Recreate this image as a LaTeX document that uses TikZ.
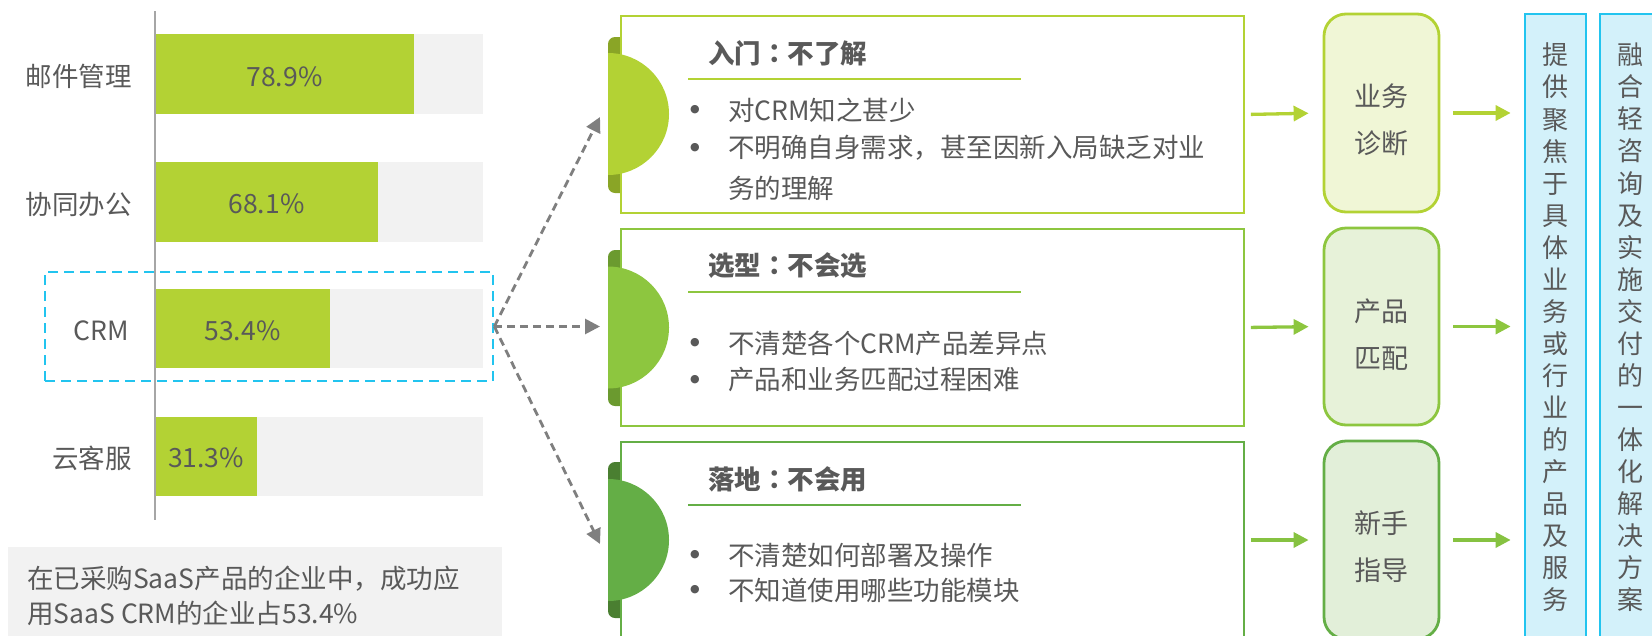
\documentclass[tikz,border=0pt]{standalone}
\usepackage{fontspec}
\setmainfont{Noto Sans CJK SC}
\newfontfamily\tcfont{Noto Sans CJK TC}
\newfontfamily\bulfont{DejaVu Sans}
\usetikzlibrary{arrows.meta}
\definecolor{txt}{HTML}{595959}
\definecolor{barg}{HTML}{B3D234}
\definecolor{barbg}{HTML}{F2F2F2}
\definecolor{axisc}{HTML}{A6A6A6}
\definecolor{cyanc}{HTML}{22C4EF}
\definecolor{cyanf}{HTML}{D3F1FA}
\definecolor{grayarr}{HTML}{7F7F7F}
\definecolor{gA}{HTML}{B3D234}
\definecolor{gAd}{HTML}{8AA526}
\definecolor{gAf}{HTML}{F0F6D6}
\definecolor{gB}{HTML}{8DC63F}
\definecolor{gBd}{HTML}{6B9A2F}
\definecolor{gBf}{HTML}{E7F2D9}
\definecolor{gC}{HTML}{64AE46}
\definecolor{gCd}{HTML}{4A7F31}
\definecolor{gCf}{HTML}{E2EFD9}
\definecolor{gCa}{HTML}{86C241}
\newcommand\tcolon{{\tcfont ：}}
\begin{document}
\begin{tikzpicture}[x=1pt,y=-1pt,
  txtstyle/.style={inner sep=0pt, text=txt},
  lbl/.style={txtstyle, font=\fontsize{26.5}{30}\selectfont},
  ttl/.style={txtstyle, anchor=west, font=\fontsize{26.5}{30}\selectfont\bfseries},
  bodyt/.style={txtstyle, anchor=west, font=\fontsize{26.5}{30}\selectfont},
  bul/.style={txtstyle, font=\bulfont\fontsize{11}{13}\selectfont},
  midbox/.style={draw, fill=white, line width=2.6pt, minimum width=623pt, minimum height=197pt, inner sep=0pt},
  rbox/.style={draw, line width=2.8pt, rounded corners=22pt, minimum width=115pt, minimum height=198pt, inner sep=0pt},
  rtxt/.style={txtstyle, align=center, font=\fontsize{27}{47}\selectfont},
  vbox/.style={draw=cyanc, fill=cyanf, line width=2.7pt, minimum width=61pt, minimum height=640pt, inner sep=0pt},
  vtxt/.style={txtstyle, align=center, font=\fontsize{26}{32.06}\selectfont},
  dasharr/.style={draw=grayarr, line width=2.8pt, dash pattern=on 8pt off 5pt, -{Triangle[length=15pt,width=15pt]}},
  garr/.style={line width=3.3pt, -{Triangle[length=15pt,width=15pt]}}
]
\useasboundingbox (0,0) rectangle (1652,635);
\clip (0,0) rectangle (1652,635);

% ---- bar chart ----
\fill[barbg] (155,34) rectangle (483,114);
\fill[barg] (155,34) rectangle (414,114);
\fill[barbg] (155,162) rectangle (483,242);
\fill[barg] (155,162) rectangle (378,242);
\fill[barbg] (155,289) rectangle (483,368);
\fill[barg] (155,289) rectangle (330,368);
\fill[barbg] (155,417) rectangle (483,496);
\fill[barg] (155,417) rectangle (257,496);
\draw[axisc, line width=1.8pt] (155,11) -- (155,520);

\node[lbl, anchor=east] (l1) at (132,76) {邮件管理};
\node[lbl, anchor=east] (l2) at (132,204) {协同办公};
\node[lbl, anchor=east] (l3) at (129,331) {CRM};
\node[lbl, anchor=east] (l4) at (132,458) {云客服};
\node[lbl] (p1) at (284.5,77) {78.9\%};
\node[lbl] (p2) at (266.5,204) {68.1\%};
\node[lbl] (p3) at (242.5,331) {53.4\%};
\node[lbl] (p4) at (206,458) {31.3\%};

\node[draw=cyanc, line width=2.7pt, dash pattern=on 10pt off 6pt, minimum width=448pt, minimum height=109pt, inner sep=0pt] (crm) at (269,326.5) {};

% ---- note ----
\fill[barbg] (8,547) rectangle (502,650);
\node[lbl, anchor=west, align=left, font=\fontsize{26.5}{35}\selectfont] (note) at (27,595.5) {在已采购SaaS产品的企业中，成功应\\用SaaS CRM的企业占53.4\%};

% ---- tabs (dark part) ----
\fill[gAd, rounded corners=7pt] (608,37) rectangle (640,193);
\fill[gBd, rounded corners=7pt] (608,250) rectangle (640,406);
\fill[gCd, rounded corners=7pt] (608,462) rectangle (640,618);

% ---- middle boxes ----
\node[midbox, draw=gA] (b1) at (932.5,114.5) {};
\node[midbox, draw=gB] (b2) at (932.5,327.5) {};
\node[midbox, draw=gC, minimum height=196pt] (b3) at (932.5,540) {};

% ---- half discs ----
\fill[gA] (608,53) arc[start angle=90, end angle=-90, radius=61pt] -- cycle;
\fill[gB] (608,266.5) arc[start angle=90, end angle=-90, radius=61pt] -- cycle;
\fill[gC] (608,479) arc[start angle=90, end angle=-90, radius=61pt] -- cycle;

% ---- titles ----
\node[ttl] (t1) at (708,53) {入门\tcolon 不了解};
\node[ttl] (t2) at (708,266) {选型\tcolon 不会选};
\node[ttl] (t3) at (708,479) {落地\tcolon 不会用};
\draw[gA, line width=2.6pt] (688,79) -- (1021,79);
\draw[gB, line width=2.6pt] (688,292) -- (1021,292);
\draw[gC, line width=2.6pt] (688,505) -- (1021,505);

% ---- bullets ----
\node[bul] (u11) at (695,110) {●};
\node[bodyt] (x11) at (728,110) {对CRM知之甚少};
\node[bul] (u12) at (695,148) {●};
\node[bodyt] (x12) at (728,148) {不明确自身需求，甚至因新入局缺乏对业};
\node[bodyt] (x13) at (728,188) {务的理解};
\node[bul] (u21) at (695,343) {●};
\node[bodyt] (x21) at (728,343) {不清楚各个CRM产品差异点};
\node[bul] (u22) at (695,380) {●};
\node[bodyt] (x22) at (728,380) {产品和业务匹配过程困难};
\node[bul] (u31) at (695,555) {●};
\node[bodyt] (x31) at (728,555) {不清楚如何部署及操作};
\node[bul] (u32) at (695,590) {●};
\node[bodyt] (x32) at (728,590) {不知道使用哪些功能模块};

% ---- dashed arrows ----
\coordinate (a1) at (600,117);
\coordinate (a2) at (600,326.5);
\coordinate (a3) at (600,544);
\draw[dasharr] (crm.east) -- (a1);
\draw[dasharr] (crm.east) -- (a2);
\draw[dasharr] (crm.east) -- (a3);

% ---- right rounded boxes ----
\node[rbox, draw=gA, fill=gAf] (dA) at (1381.5,113) {};
\node[rbox, draw=gB, fill=gBf, minimum height=197pt] (dB) at (1381.5,326.5) {};
\node[rbox, draw=gC, fill=gCf] (dC) at (1381.5,540) {};
\node[rtxt] (tA) at (1381.5,120) {业务\\诊断};
\node[rtxt] (tB) at (1381.5,335) {产品\\匹配};
\node[rtxt] (tC) at (1381.5,547) {新手\\指导};

% ---- vertical boxes ----
\node[vbox] (dD) at (1555.5,334) {};
\node[vbox, minimum width=62pt] (dE) at (1631,334) {};
\node[vtxt] (vD) at (1555.5,327.5) {提\\供\\聚\\焦\\于\\具\\体\\业\\务\\或\\行\\业\\的\\产\\品\\及\\服\\务};
\node[vtxt] (vE) at (1630,327.5) {融\\合\\轻\\咨\\询\\及\\实\\施\\交\\付\\的\\一\\体\\化\\解\\决\\方\\案};

% ---- green arrows ----
\draw[garr, gA, shorten <=5.5pt, shorten >=14pt] (b1.east) -- (dA.west);
\draw[garr, gB, shorten <=5.5pt, shorten >=14pt] (b2.east) -- (dB.west);
\draw[garr, gCa, shorten <=5.5pt, shorten >=14pt] (b3.east) -- (dC.west);
\draw[garr, gA, shorten <=13pt, shorten >=13pt] (dA.east) -- (dA.east -| dD.west);
\draw[garr, gB, shorten <=13pt, shorten >=13pt] (dB.east) -- (dB.east -| dD.west);
\draw[garr, gCa, shorten <=13pt, shorten >=13pt] (dC.east) -- (dC.east -| dD.west);
\end{tikzpicture}
\end{document}
